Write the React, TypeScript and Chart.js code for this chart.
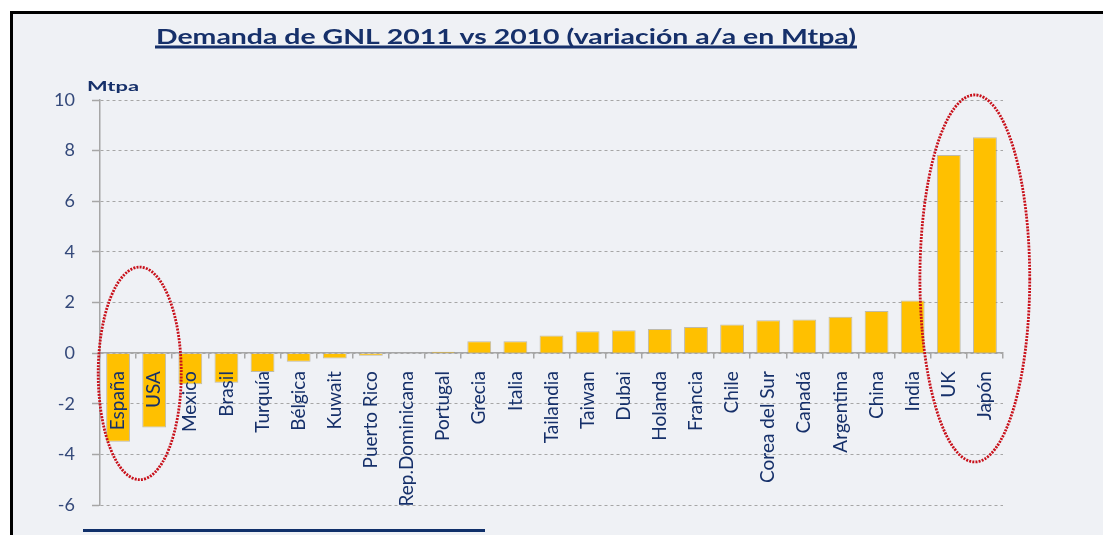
import React, { useEffect, useRef } from "react";
import { Chart, registerables } from "chart.js";

Chart.register(...registerables);

const categories = [
  "España", "USA", "Mexico", "Brasil", "Turquía", "Bélgica", "Kuwait", "Puerto Rico",
  "Rep.Dominicana", "Portugal", "Grecia", "Italia", "Tailandia", "Taiwan", "Dubai",
  "Holanda", "Francia", "Chile", "Corea del Sur", "Canadá", "Argentina", "China",
  "India", "UK", "Japón",
];
const values = [
  -3.5, -2.94, -1.23, -1.17, -0.75, -0.34, -0.21, -0.1, 0, 0.05, 0.47, 0.47, 0.7,
  0.86, 0.9, 0.95, 1.03, 1.13, 1.3, 1.33, 1.44, 1.66, 2.08, 7.83, 8.53,
];
const yMin = -6;
const yMax = 10;
const yStep = 2;

// highlighted groups: category index range and value extent of the ellipse
const highlightFrom = [0, 23];
const highlightTo = [1, 24];
const highlightTop = [3.4, 10.2];
const highlightBottom = [-5.0, -4.3];

const TITLE = "Demanda de GNL 2011 vs 2010 (variación a/a en Mtpa)";
const UNIT = "Mtpa";
const NAVY = "#16306a";
const AXIS = "#a6a6a6";

function stretchedText(ctx: any, text: string, font: string, x0: number, x1: number, baseline: number) {
  ctx.save();
  ctx.font = font;
  const w = ctx.measureText(text).width;
  ctx.translate(x0, baseline);
  ctx.scale((x1 - x0) / w, 1);
  ctx.textAlign = "left";
  ctx.textBaseline = "alphabetic";
  ctx.fillText(text, 0, 0);
  ctx.restore();
}

const decorPlugin = {
  id: "decor",
  afterDraw(chart: any) {
    const { ctx, scales } = chart;
    const x = scales.x;
    const y = scales.y;
    const catW = x.getPixelForValue(1) - x.getPixelForValue(0);
    ctx.save();
    ctx.strokeStyle = "#c8101a";
    ctx.lineWidth = 2.8;
    ctx.setLineDash([2, 1.2]);
    for (let i = 0; i < highlightFrom.length; i++) {
      const x0 = x.getPixelForValue(highlightFrom[i]);
      const x1 = x.getPixelForValue(highlightTo[i]);
      const cx = (x0 + x1) / 2 + (i === 0 ? 0.1 : 0.22) * catW;
      const rx = (i === 0 ? 1.15 : 1.52) * catW;
      const yt = y.getPixelForValue(highlightTop[i]);
      const yb = y.getPixelForValue(highlightBottom[i]);
      ctx.beginPath();
      ctx.ellipse(cx, (yt + yb) / 2, rx, (yb - yt) / 2, 0, 0, Math.PI * 2);
      ctx.stroke();
    }
    ctx.restore();

    // title, underlined
    ctx.save();
    ctx.fillStyle = NAVY;
    stretchedText(ctx, TITLE, "bold 21px Lato", 156, 856, 44);
    ctx.fillRect(155, 45.5, 702, 3);
    // unit label
    stretchedText(ctx, UNIT, "bold 14px Lato", 87, 139, 91);
    ctx.restore();
  },
};

export default function App() {
  const ref = useRef<HTMLCanvasElement>(null);
  useEffect(() => {
    if (!ref.current) return;
    const chart = new Chart(ref.current, {
      type: "bar",
      data: {
        labels: categories,
        datasets: [
          {
            data: values,
            backgroundColor: "#ffc000",
            borderColor: "rgba(150,140,110,0.55)",
            borderWidth: 1,
            borderSkipped: "start",
            barPercentage: 0.66,
            categoryPercentage: 1,
          },
        ],
      },
      options: {
        animation: false,
        responsive: false,
        maintainAspectRatio: false,
        layout: { padding: { top: 100, bottom: 30, right: 100, left: 0 } },
        plugins: { legend: { display: false }, tooltip: { enabled: false } },
        scales: {
          x: {
            type: "category",
            position: { y: 0 } as any,
            offset: true,
            grid: {
              drawOnChartArea: false,
              offset: true,
              tickLength: 5,
              color: AXIS,
              lineWidth: 1.5,
            },
            border: { color: AXIS, width: 1.5 },
            ticks: {
              z: 1,
              autoSkip: false,
              minRotation: 90,
              maxRotation: 90,
              padding: 13,
              color: NAVY,
              font: { family: "Lato", size: 19 },
            } as any,
          },
          y: {
            min: yMin,
            max: yMax,
            afterFit: (s: any) => {
              s.width = 100;
            },
            ticks: {
              stepSize: yStep,
              padding: 17,
              color: "#34497a",
              font: { family: "Lato", size: 18 },
            },
            grid: {
              color: AXIS,
              lineWidth: 1,
              tickLength: 8,
              tickColor: AXIS,
              tickWidth: 1.5,
              tickBorderDash: [],
            } as any,
            border: { color: AXIS, width: 1.5, dash: [3, 3] },
          },
        },
      },
      plugins: [decorPlugin],
    });
    return () => chart.destroy();
  }, []);

  return (
    <div
      style={{
        position: "absolute",
        left: 0,
        top: 0,
        width: 1103,
        height: 535,
        overflow: "hidden",
        background: "#ffffff",
      }}
    >
      <div
        style={{
          position: "absolute",
          left: 10,
          top: 11,
          width: 1200,
          height: 600,
          borderLeft: "3px solid #000",
          borderTop: "3px solid #000",
          background: "#eff1f5",
        }}
      />
      <div
        style={{
          position: "absolute",
          left: 83,
          top: 529,
          width: 402,
          height: 3,
          background: "#10306a",
        }}
      />
      <canvas
        ref={ref}
        width={1103}
        height={535}
        style={{ position: "absolute", left: 0, top: 0, width: 1103, height: 535 }}
      />
    </div>
  );
}
